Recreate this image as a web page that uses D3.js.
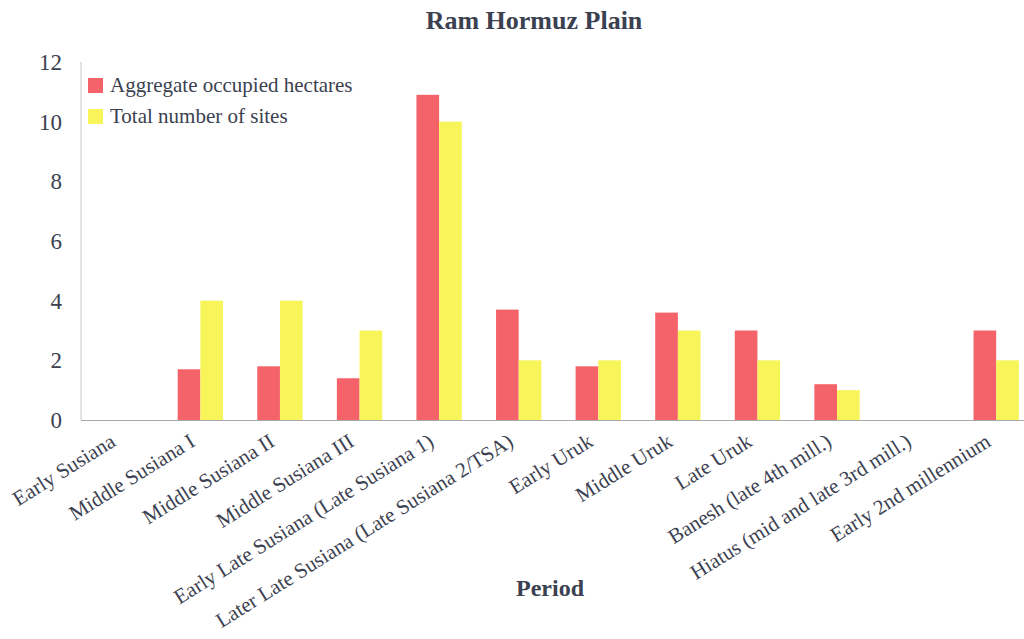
<!DOCTYPE html>
<html>
<head>
<meta charset="utf-8">
<script src="https://cdn.jsdelivr.net/npm/d3@7"></script>
<style>
  body { margin: 0; background: #fff; }
  text { font-family: "Liberation Serif", "DejaVu Serif", serif; fill: #3b4150; }
</style>
</head>
<body>
<div id="chart"></div>
<script>
const periods = [
  "Early Susiana", "Middle Susiana I", "Middle Susiana II", "Middle Susiana III",
  "Early Late Susiana (Late Susiana 1)", "Later Late Susiana (Late Susiana 2/TSA)",
  "Early Uruk", "Middle Uruk", "Late Uruk", "Banesh (late 4th mill.)",
  "Hiatus (mid and late 3rd mill.)", "Early 2nd millennium"
]
const hectares = [0, 1.7, 1.8, 1.4, 10.9, 3.7, 1.8, 3.6, 3.0, 1.2, 0, 3.0]
const sites = [0, 4, 4, 3, 10, 2, 2, 3, 2, 1, 0, 2]
const seriesNames = ["Aggregate occupied hectares", "Total number of sites"]
const yTicks = [0, 2, 4, 6, 8, 10, 12]

const width = 1024
const height = 639
const margin = { left: 81, right: -12, top: 62, bottom: 219 }
const red = '#f5636a'
const yellow = '#f8f55a'

const svg = d3.select('#chart').append('svg')
  .attr('width', width)
  .attr('height', height)

const x0 = d3.scaleBand()
  .domain(periods)
  .range([margin.left, width - margin.right])
  .paddingInner(0.43)
  .paddingOuter(0.215)

const x1 = d3.scaleBand()
  .domain(seriesNames)
  .range([0, x0.bandwidth()])

const y = d3.scaleLinear()
  .domain([0, 12])
  .range([height - margin.bottom, margin.top])

const color = d3.scaleOrdinal().domain(seriesNames).range([red, yellow])

// axes lines
svg.append('line')
  .attr('x1', margin.left).attr('x2', margin.left)
  .attr('y1', y(12)).attr('y2', y(0))
  .attr('stroke', '#c8c8c8').attr('stroke-width', 1)

// y tick labels
svg.append('g').selectAll('text')
  .data(yTicks)
  .join('text')
  .attr('x', 62)
  .attr('y', d => y(d))
  .attr('dy', '0.35em')
  .attr('text-anchor', 'end')
  .style('font-size', '23px')
  .text(d => d)

// bars
const rows = periods.map((p, i) => ({ period: p, values: [hectares[i], sites[i]] }))
const groups = svg.append('g').selectAll('g')
  .data(rows)
  .join('g')
  .attr('transform', d => 'translate(' + x0(d.period) + ',0)')

groups.selectAll('rect')
  .data(d => d.values.map((v, k) => ({ key: seriesNames[k], value: v })))
  .join('rect')
  .attr('x', d => x1(d.key))
  .attr('width', x1.bandwidth())
  .attr('y', d => y(d.value))
  .attr('height', d => y(0) - y(d.value))
  .attr('fill', d => color(d.key))

svg.append('line')
  .attr('x1', margin.left).attr('x2', width)
  .attr('y1', y(0) + 0.5).attr('y2', y(0) + 0.5)
  .attr('stroke', '#a8a8a8').attr('stroke-width', 1)

// x labels
svg.append('g').selectAll('text')
  .data(periods)
  .join('text')
  .attr('transform', d => 'translate(' + (x0(d) + x0.bandwidth() / 2 - 4) + ',' + (y(0) + 25) + ') rotate(-32)')
  .attr('text-anchor', 'end')
  .style('font-size', '21px')
  .text(d => d)

// title
svg.append('text')
  .attr('x', 534)
  .attr('y', 29)
  .attr('text-anchor', 'middle')
  .style('font-size', '26px')
  .style('font-weight', 'bold')
  .text('Ram Hormuz Plain')

svg.append('text')
  .attr('x', 550)
  .attr('y', 596)
  .attr('text-anchor', 'middle')
  .style('font-size', '24px')
  .style('font-weight', 'bold')
  .text('Period')

// legend
const legend = svg.append('g').selectAll('g')
  .data(seriesNames)
  .join('g')
  .attr('transform', (d, i) => 'translate(88,' + (78 + i * 31) + ')')

legend.append('rect')
  .attr('width', 15).attr('height', 15)
  .attr('fill', d => color(d))

legend.append('text')
  .attr('x', 22)
  .attr('y', 14)
  .style('font-size', '21px')
  .text(d => d)
</script>
</body>
</html>
